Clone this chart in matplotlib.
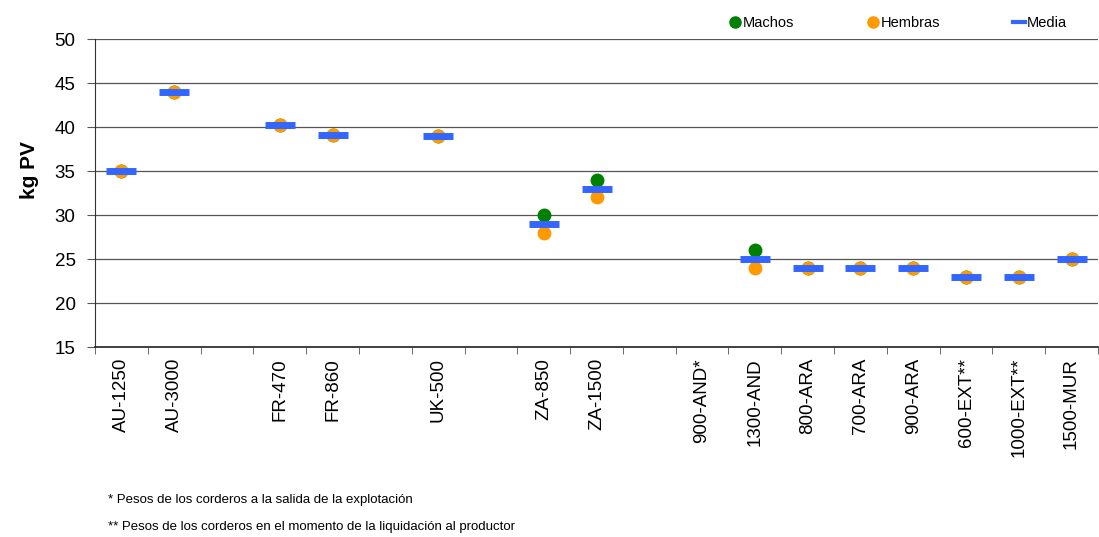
import matplotlib
matplotlib.use('Agg')
import matplotlib.pyplot as plt
from matplotlib.lines import Line2D
import numpy as np

plt.rcParams['font.family'] = ['Liberation Sans', 'DejaVu Sans']

# empty strings are the gaps between country groups
categories = ['AU-1250', 'AU-3000', '', 'FR-470', 'FR-860', '', 'UK-500', '',
              'ZA-850', 'ZA-1500', '', '900-AND*', '1300-AND', '800-ARA', '700-ARA',
              '900-ARA', '600-EXT**', '1000-EXT**', '1500-MUR']
nan = np.nan
machos = [35, 44, nan, 40.2, 39.1, nan, 39, nan, 30, 34, nan, nan, 26, 24, 24, 24, 23, 23, 25]
hembras = [35, 44, nan, 40.2, 39.1, nan, 39, nan, 28, 32, nan, nan, 24, 24, 24, 24, 23, 23, 25]
media = [35, 44, nan, 40.2, 39.1, nan, 39, nan, 29, 33, nan, nan, 25, 24, 24, 24, 23, 23, 25]

c_m, c_h, c_med = '#008000', '#FF9900', '#3366FF'

fig = plt.figure(figsize=(10.99, 5.37), dpi=100)
ax = fig.add_axes([95/1099, 190/537, 1003/1099, 308/537])

x = np.arange(len(categories))
ax.plot(x, machos, 'o', color=c_m, ms=9, ls='none', zorder=3)
ax.plot(x, hembras, 'o', color=c_h, ms=9, ls='none', zorder=4)
ax.plot(x, media, '_', color=c_med, ms=22, mew=5, ls='none', zorder=5)

ax.set_xlim(-0.5, len(categories) - 0.5)
ax.set_ylim(15, 50)
ax.set_yticks(range(15, 51, 5))
ax.yaxis.grid(True, color='#555555', lw=0.9)
ax.set_axisbelow(True)

ax.set_xticks(x)
ax.set_xticklabels(categories, rotation=90, fontsize=13.5)
ax.set_xticks(np.arange(-0.5, len(categories), 1), minor=True)
ax.tick_params(axis='x', which='major', length=0, pad=8)
ax.tick_params(axis='x', which='minor', length=5, color='#555555')
ax.tick_params(axis='y', labelsize=13.5, length=6, pad=8, color='#555555')

for s in ['top', 'right']:
    ax.spines[s].set_visible(False)
ax.spines['left'].set_color('#333333')
ax.spines['bottom'].set_color('#333333')
ax.spines['bottom'].set_linewidth(1.3)

ax.set_ylabel('kg PV', fontsize=15, fontweight='bold')
ax.yaxis.set_label_coords(-0.056, 0.575)

handles = [
    Line2D([], [], marker='o', color=c_m, ms=8, ls='none'),
    Line2D([], [], marker='o', color=c_h, ms=8, ls='none'),
    Line2D([], [], color=c_med, lw=3),
]
ax.legend(handles, ['Machos', 'Hembras', 'Media'], loc='lower right',
          bbox_to_anchor=(0.975, 1.01), ncol=3, frameon=False, fontsize=10.5,
          handlelength=0.8, handletextpad=0.15, columnspacing=5.0, borderaxespad=0)

fig.text(108/1099, 1 - 500/537, '* Pesos de los corderos a la salida de la explotación',
         fontsize=9.5, va='center')
fig.text(108/1099, 1 - 527/537, '** Pesos de los corderos en el momento de la liquidación al productor',
         fontsize=9.5, va='center')

fig.savefig('out.png', dpi=100)
